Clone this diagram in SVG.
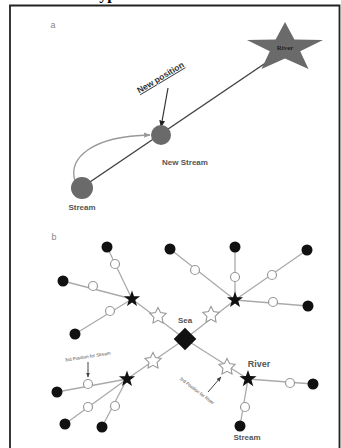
<svg xmlns="http://www.w3.org/2000/svg" width="341" height="448" viewBox="0 0 341 448">
<style>
.lbl{font-family:"Liberation Sans",Arial,sans-serif;font-weight:bold;fill:#555;text-anchor:middle}
.br{stroke:#aaa;stroke-width:1.3;fill:none}
.oc{fill:#fff;stroke:#999;stroke-width:1.2}
.bd{fill:#111}
.os{fill:#fff;stroke:#999;stroke-width:1.3}
.tiny{font-family:"Liberation Sans",Arial,sans-serif;font-size:4.5px;fill:#444;text-anchor:middle}
</style>
<defs>
<path id="star" d="M0,-10 L2.351,-3.236 L9.511,-3.09 L3.804,1.236 L5.878,8.09 L0,4 L-5.878,8.09 L-3.804,1.236 L-9.511,-3.09 L-2.351,-3.236 Z"/>
<path id="fatstar" d="M0,-10 L3,-4 L9.511,-3.09 L4.8,1.6 L5.878,8.09 L0,5 L-5.878,8.09 L-4.8,1.6 L-9.511,-3.09 L-3,-4 Z"/>
<marker id="ahB" viewBox="0 0 10 10" refX="9" refY="5" markerWidth="6" markerHeight="6" orient="auto"><path d="M0,1 L10,5 L0,9 Z" fill="#222"/></marker>
<marker id="ahG" viewBox="0 0 10 10" refX="9" refY="5" markerWidth="5" markerHeight="5" orient="auto"><path d="M0,1 L10,5 L0,9 Z" fill="#999"/></marker>
<marker id="ahS" viewBox="0 0 10 10" refX="9" refY="5" markerWidth="5" markerHeight="5" orient="auto"><path d="M0,1 L10,5 L0,9 Z" fill="#444"/></marker>
</defs>
<rect width="341" height="448" fill="#fff"/>
<text x="110" y="-1" font-family="Liberation Serif,serif" font-weight="bold" font-size="16" text-anchor="middle" fill="#000">ypi</text>
<path d="M10,460 L10,5.5 L339.5,5.5 L339.5,460" fill="none" stroke="#222" stroke-width="1.8"/>

<!-- Panel a -->
<text x="53" y="28" font-family="Liberation Sans,Arial,sans-serif" font-size="9" fill="#888" text-anchor="middle">a</text>
<g id="connectors-a">
<line x1="84" y1="186" x2="270" y2="60" stroke="#444" stroke-width="1.5"/>
<path d="M75,181 C68,158 92,136 150,135" fill="none" stroke="#999" stroke-width="1.3" marker-end="url(#ahG)"/>
<line x1="168" y1="88" x2="161" y2="127" stroke="#333" stroke-width="1.2" marker-end="url(#ahB)"/>
</g>
<g id="river-a">
<use href="#star" transform="translate(285,48) scale(4,2.6)" fill="#6a6a6a"/>
<text x="285" y="50" font-family="Liberation Serif,serif" font-weight="bold" font-size="7" fill="#222" text-anchor="middle">River</text>
</g>
<g id="newstream-a">
<circle cx="161" cy="135" r="10" fill="#6a6a6a"/>
<text class="lbl" x="185" y="165" font-size="8">New Stream</text>
</g>
<g id="stream-a">
<circle cx="82" cy="188" r="11" fill="#6a6a6a"/>
<text class="lbl" x="82" y="210" font-size="8">Stream</text>
</g>
<g id="newpos-label">
<text x="162" y="80" transform="rotate(-31 162 80)" font-family="Liberation Sans,Arial,sans-serif" font-weight="bold" font-size="8.5" fill="#333" text-anchor="middle" text-decoration="underline">New position</text>
</g>

<!-- Panel b -->
<text x="54" y="240" font-family="Liberation Sans,Arial,sans-serif" font-size="9" fill="#888" text-anchor="middle">b</text>
<g id="connectors-b">
<path class="br" d="M132,299 L185,339 M235,300 L185,339 M127,379 L185,339 M248,379 L185,339"/>
<path class="br" d="M107,247 L132,299 M63,281 L132,299 M75,334 L132,299"/>
<path class="br" d="M170,249 L235,300 M235,247 L235,300 M307,250 L235,300 M308,306 L235,300"/>
<path class="br" d="M57,392 L127,379 M65,424 L127,379 M102,427 L127,379"/>
<path class="br" d="M313,384 L248,379 M240,426 L248,379"/>
<line x1="88" y1="362" x2="88" y2="377" stroke="#444" stroke-width="1" marker-end="url(#ahS)"/>
<line x1="208" y1="392" x2="221" y2="377" stroke="#444" stroke-width="1" marker-end="url(#ahS)"/>
</g>
<g id="sea">
<rect x="177" y="331" width="16" height="16" transform="rotate(45 185 339)" fill="#111"/>
<text class="lbl" x="185" y="323" font-size="8">Sea</text>
</g>
<g id="ul">
<use href="#fatstar" class="os" transform="translate(158,316) scale(0.85)"/>
<use href="#star" class="bd" transform="translate(132,299) scale(0.85)"/>
<circle class="oc" cx="115" cy="264" r="4.5"/><circle class="bd" cx="107" cy="247" r="5.5"/>
<circle class="oc" cx="93" cy="286" r="4.5"/><circle class="bd" cx="63" cy="281" r="5.5"/>
<circle class="oc" cx="110" cy="311" r="4.5"/><circle class="bd" cx="75" cy="334" r="5.5"/>
</g>
<g id="ur">
<use href="#fatstar" class="os" transform="translate(211,315) scale(0.85)"/>
<use href="#star" class="bd" transform="translate(235,300) scale(0.85)"/>
<circle class="oc" cx="195" cy="270" r="4.5"/><circle class="bd" cx="170" cy="249" r="5.5"/>
<circle class="oc" cx="235" cy="277" r="4.5"/><circle class="bd" cx="235" cy="247" r="5.5"/>
<circle class="oc" cx="272" cy="275" r="4.5"/><circle class="bd" cx="307" cy="250" r="5.5"/>
<circle class="oc" cx="273" cy="302" r="4.5"/><circle class="bd" cx="308" cy="306" r="5.5"/>
</g>
<g id="ll">
<use href="#fatstar" class="os" transform="translate(153,361) scale(0.85)"/>
<use href="#star" class="bd" transform="translate(127,379) scale(0.85)"/>
<circle class="oc" cx="88" cy="384" r="4.5"/><circle class="bd" cx="57" cy="392" r="5.5"/>
<circle class="oc" cx="88" cy="407" r="4.5"/><circle class="bd" cx="65" cy="424" r="5.5"/>
<circle class="oc" cx="115" cy="406" r="4.5"/><circle class="bd" cx="102" cy="427" r="5.5"/>
</g>
<g id="lr">
<use href="#fatstar" class="os" transform="translate(227,367) scale(0.85)"/>
<use href="#star" class="bd" transform="translate(248,379) scale(0.9)"/>
<circle class="oc" cx="290" cy="383" r="4.5"/><circle class="bd" cx="313" cy="384" r="5.5"/>
<circle class="oc" cx="245" cy="407" r="4.5"/><circle class="bd" cx="240" cy="426" r="5.5"/>
<text class="lbl" x="259" y="367" font-size="9" fill="#444">River</text>
<text class="lbl" x="247" y="440" font-size="8">Stream</text>
</g>
<g id="pos-labels">
<text class="tiny" x="88" y="358" transform="rotate(-9 88 358)">3rd Position for Stream</text>
<text class="tiny" x="196" y="392" transform="rotate(37 196 392)">3rd Position for River</text>
</g>
</svg>
